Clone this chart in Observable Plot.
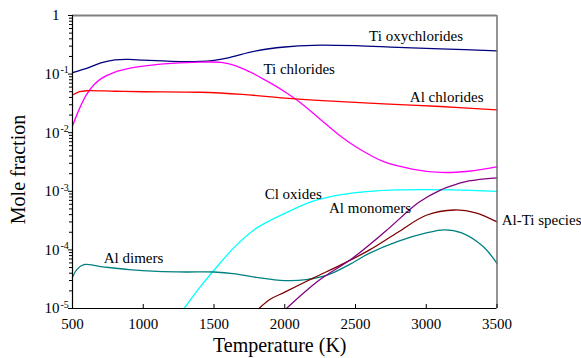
<!DOCTYPE html>
<html>
<head>
<meta charset="utf-8">
<script src="https://cdn.jsdelivr.net/npm/d3@7"></script>
<script src="https://cdn.jsdelivr.net/npm/@observablehq/plot@0.6"></script>
<style>
  html, body { margin: 0; padding: 0; background: #fff; }
  #chart svg { display: block; font-family: 'Liberation Serif', 'Times New Roman', serif; }
  #chart svg text { font-family: 'Liberation Serif', 'Times New Roman', serif; }
</style>
</head>
<body>
<div id="chart"></div>
<script>
// ---- data ----
const tiOxyT = [500, 600, 700, 800, 900, 1000, 1200, 1400, 1500, 1600, 1800, 2000, 2200, 2500, 2800, 3100, 3500];
const tiOxyV = [0.106, 0.125, 0.155, 0.175, 0.178, 0.173, 0.165, 0.165, 0.172, 0.19, 0.25, 0.29, 0.31, 0.305, 0.285, 0.27, 0.25];

const tiClT = [500, 550, 600, 650, 700, 800, 900, 1000, 1200, 1400, 1550, 1650, 1750, 1900, 2000, 2100, 2250, 2400, 2500, 2700, 2900, 3100, 3300, 3500];
const tiClV = [0.013, 0.026, 0.045, 0.065, 0.083, 0.108, 0.125, 0.137, 0.152, 0.16, 0.158, 0.14, 0.11, 0.07, 0.05, 0.034, 0.017, 0.0085, 0.0058, 0.0032, 0.0024, 0.0021, 0.0022, 0.0026];

const alClT = [500, 550, 600, 800, 1000, 1400, 1700, 2000, 2300, 2700, 3100, 3500];
const alClV = [0.044, 0.05, 0.052, 0.051, 0.05, 0.049, 0.045, 0.039, 0.035, 0.031, 0.028, 0.0246];

const clOxT = [1288, 1400, 1500, 1650, 1800, 2000, 2200, 2400, 2600, 2800, 3000, 3200, 3500];
const clOxV = [1e-5, 2.3e-5, 4.5e-5, 1.15e-4, 2.35e-4, 4.2e-4, 6.8e-4, 8.8e-4, 1.0e-3, 1.06e-3, 1.07e-3, 1.06e-3, 1.0e-3];

const alDimT = [500, 530, 580, 700, 900, 1100, 1300, 1500, 1650, 1800, 2000, 2150, 2300, 2450, 2600, 2800, 3000, 3130, 3250, 3400, 3500];
const alDimV = [3.4e-5, 4.6e-5, 5.6e-5, 5.2e-5, 4.6e-5, 4.3e-5, 4.2e-5, 4.2e-5, 3.9e-5, 3.4e-5, 3.0e-5, 3.1e-5, 3.7e-5, 5.5e-5, 8.8e-5, 1.4e-4, 1.95e-4, 2.2e-4, 1.95e-4, 1.15e-4, 5.9e-5];

const alTiT = [1818, 1900, 2000, 2200, 2400, 2600, 2800, 3000, 3200, 3350, 3500];
const alTiV = [1e-5, 1.45e-5, 1.9e-5, 3.3e-5, 5.6e-5, 1.0e-4, 2.0e-4, 3.9e-4, 4.8e-4, 4.3e-4, 3.0e-4];

const alMonT = [2012, 2240, 2481, 2714, 2948, 3100, 3189, 3300, 3500];
const alMonV = [1e-5, 3.0e-5, 7.3e-5, 2.1e-4, 6.5e-4, 1.05e-3, 1.26e-3, 1.5e-3, 1.7e-3];

const seriesNames = ["Ti oxychlorides", "Ti chlorides", "Al chlorides", "Cl oxides", "Al dimers", "Al-Ti species", "Al monomers"];
const seriesColors = ["#000080", "#ff00ff", "#ff0000", "#00ffff", "#008080", "#800000", "#800080"];

const labelTexts = ["Ti oxychlorides", "Ti chlorides", "Al chlorides", "Cl oxides", "Al monomers", "Al dimers", "Al-Ti species"];
const labelX = [2596, 1849, 2884, 1858, 2313, 721, 3533];
const labelY = [0.452, 0.119, 0.0411, 9.1e-4, 5.05e-4, 7.1e-5, 3.27e-4];

const xTicks = [500, 1000, 1500, 2000, 2500, 3000, 3500];
const yMajor = [1e-5, 1e-4, 1e-3, 1e-2, 1e-1, 1];
const yBase = ["10", "10", "10", "10", "10", "1"];
const yExp = ["-5", "-4", "-3", "-2", "-1", ""];
const yMinor = [];
for (const p of [1e-5, 1e-4, 1e-3, 1e-2, 1e-1]) for (let k = 2; k <= 9; k++) yMinor.push(+(k * p).toPrecision(3));

// ---- build table ----
const seriesT = [tiOxyT, tiClT, alClT, clOxT, alDimT, alTiT, alMonT];
const seriesV = [tiOxyV, tiClV, alClV, clOxV, alDimV, alTiV, alMonV];
const rows = [];
seriesNames.forEach((name, i) => {
  seriesT[i].forEach((t, j) => rows.push({series: name, T: t, v: seriesV[i][j]}));
});
const labels = labelTexts.map((t, i) => ({text: t, x: labelX[i], y: labelY[i]}));
const yLab = yMajor.map((v, i) => ({v, base: yBase[i], exp: yExp[i]}));

const serif = "'Liberation Serif', 'Times New Roman', serif";

const chart = Plot.plot({
  width: 581,
  height: 358,
  marginLeft: 72,
  marginRight: 84.5,
  marginTop: 15,
  marginBottom: 50,
  style: {fontFamily: serif, fontSize: "15px", color: "#000", background: "#fff", overflow: "visible"},
  x: {domain: [500, 3500]},
  y: {type: "log", domain: [1e-5, 1]},
  color: {domain: seriesNames, range: seriesColors},
  marks: [
    Plot.line(rows, {x: "T", y: "v", z: "series", stroke: "series", strokeWidth: 1.3, curve: "catmull-rom"}),
    // frame
    Plot.ruleY([1], {stroke: "#808080", strokeWidth: 2}),
    Plot.ruleX([3500], {stroke: "#707070", strokeWidth: 1.5}),
    Plot.ruleX([500], {stroke: "#000", strokeWidth: 1.2}),
    Plot.ruleY([1e-5], {stroke: "#000", strokeWidth: 1.2}),
    // x axis (inward ticks)
    Plot.tickX(xTicks, {x: d => d, stroke: "#000", insetTop: 289}),
    Plot.axisX(xTicks, {tickSize: 0, tickPadding: 10, fontSize: 15, fontFamily: serif, tickFormat: d => String(d), label: null}),
    // y axis ticks (outward)
    Plot.axisY(yMajor, {tickSize: 4, tickFormat: () => "", label: null}),
    Plot.axisY(yMinor, {tickSize: 3, tickFormat: () => "", label: null}),
    Plot.text(yLab, {x: 500, y: "v", text: "base", textAnchor: "end", dx: -13, fontSize: 15, fontFamily: serif}),
    Plot.text(yLab, {x: 500, y: "v", text: "exp", textAnchor: "start", dx: -12, dy: -4, fontSize: 10, fontFamily: serif}),
    // series labels
    Plot.text(labels, {x: "x", y: "y", text: "text", textAnchor: "start", fontSize: 15, fontFamily: serif}),
    // axis titles
    Plot.text(["Temperature (K)"], {frameAnchor: "bottom", textAnchor: "middle", lineAnchor: "middle", dy: 37, dx: -5, fontSize: 20, fontFamily: serif}),
    Plot.text(["Mole fraction"], {frameAnchor: "left", textAnchor: "middle", lineAnchor: "middle", dx: -53.5, dy: 7.5, rotate: -90, fontSize: 20, fontFamily: serif})
  ]
});
document.getElementById("chart").appendChild(chart);
</script>
</body>
</html>
